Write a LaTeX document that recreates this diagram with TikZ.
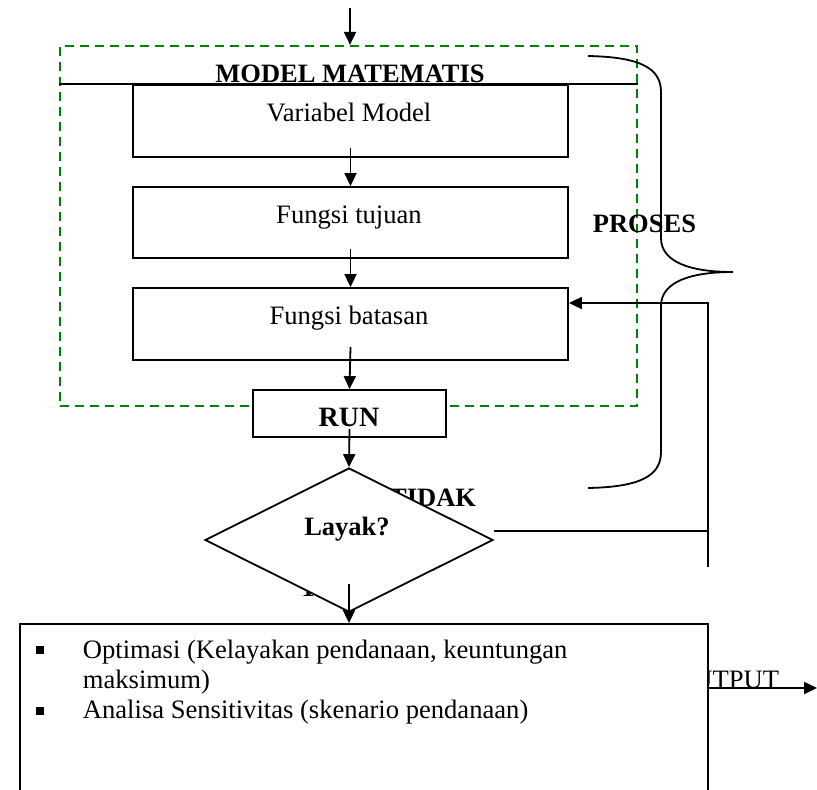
\documentclass[tikz,border=0pt]{standalone}
\usepackage{fontspec}
\setmainfont{Liberation Serif}
\usetikzlibrary{arrows.meta,shapes.geometric}
\definecolor{dkgreen}{RGB}{0,128,0}

\begin{document}
\begin{tikzpicture}[x=1pt,y=-1pt,
  line width=1.8pt,
  arr/.style={-{Triangle[length=13pt,width=12pt]}},
  stepbox/.style={draw, fill=white, inner sep=0pt, minimum width=435pt, minimum height=72pt},
  txt/.style={font=\fontsize{26.6}{30.5}\selectfont, inner sep=0pt},
  btxt/.style={font=\fontsize{26.5}{29}\selectfont\bfseries, inner sep=0pt},
  grp/.style={draw=dkgreen, line width=2.2pt, dash pattern=on 9pt off 6pt, inner sep=0pt}]
\useasboundingbox (0,0) rectangle (817,790);

% model group (dashed)
\node[grp, minimum width=577pt, minimum height=360pt] (mm) at (348.5,226) {};
\node[btxt, anchor=base] (mmt) at (350,82) {MODEL MATEMATIS};

% model steps
\node[stepbox] (vm) at (350.5,121) {};
\node[stepbox, minimum height=71pt] (ft) at (350.5,222.5) {};
\node[stepbox] (fb) at (350.5,324) {};
\node[txt, anchor=base] (vmt) at (349,121) {Variabel Model};
\node[txt, anchor=base] (ftt) at (349,223) {Fungsi tujuan};
\node[txt, anchor=base] (fbt) at (349,324) {Fungsi batasan};
\draw[line width=1.4pt] (mm.west |- vm.north) -- (mm.east |- vm.north);

% input arrow
\coordinate (in) at (350,8);
\draw[arr] (in) -- (in |- mm.north);

% run
\node[draw, fill=white, inner sep=0pt, minimum width=193pt, minimum height=47pt] (run) at (349.5,413.5) {};
\node[inner sep=0pt, anchor=base, font=\fontsize{28}{30}\selectfont\bfseries] (runt) at (349,426) {RUN};

\draw[arr] ([yshift=10pt]vm.south) -- (ft.north);
\draw[arr] ([yshift=10pt]ft.south) -- (fb.north);
\draw[arr] ([yshift=14pt]fb.south) -- (run.north);

% decision labels behind the diamond
\node[btxt, anchor=base east] (tidak) at (477,506) {TIDAK};
\node[btxt, anchor=base west] (ya) at (298,596) {YA};

% decision
\node[draw, fill=white, diamond, inner sep=0pt, minimum width=288pt, minimum height=144pt] (dia) at (349,540) {};
\node[btxt, anchor=base] (layak) at (347,535) {Layak?};
\draw[arr] ([yshift=9pt]run.south) -- (dia.north);

% output label and arrow behind the result box
\node[txt, anchor=base east] (outl) at (780,688) {OUTPUT};
\coordinate (oend) at (817,688);
\draw[arr] (700,688) -- (oend);

% result box (open at the bottom edge of the page)
\node[draw, fill=white, inner sep=0pt, minimum width=688pt, minimum height=196pt] (res) at (364,722) {};
\node[inner sep=0pt] (b1) at (40,650) {\rule{7.5pt}{7.5pt}};
\node[inner sep=0pt] (b2) at (40,711) {\rule{7.5pt}{7.5pt}};
\node[txt, anchor=base west] (r1) at (82,658) {Optimasi (Kelayakan pendanaan, keuntungan};
\node[txt, anchor=base west] (r2) at (82,688) {maksimum)};
\node[txt, anchor=base west] (r3) at (82,718) {Analisa Sensitivitas (skenario pendanaan)};
\draw[arr] ([yshift=29pt]dia.south) -- (res.north -| dia.south);

% feedback loop
\coordinate (fbk) at (708,567);
\coordinate (tj) at (708,531);
\draw ([yshift=9pt]dia.east) -- (tj);
\draw[arr] (fbk) -- (fbk |- 0,303) -- (fb.east |- 0,303);

% process brace
\node[btxt, anchor=base west] (proses) at (592,232) {PROSES};
\draw (588,56) .. controls (640,57) and (661,68) .. (661,92)
  -- (661,238) .. controls (661,262) and (690,272) .. (733,272)
  .. controls (690,272) and (661,282) .. (661,306)
  -- (661,452) .. controls (661,476) and (640,487) .. (588,488);
\end{tikzpicture}
\end{document}
